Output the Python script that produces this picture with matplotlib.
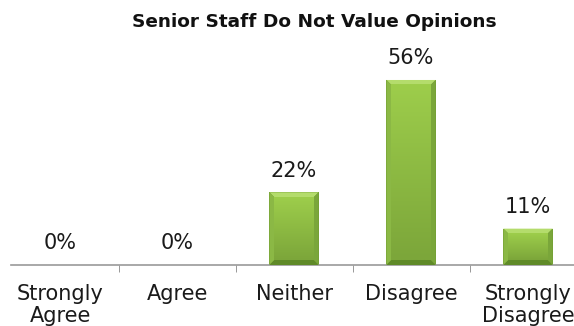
import numpy as np
import matplotlib.pyplot as plt
from matplotlib.patches import Polygon
from matplotlib.colors import LinearSegmentedColormap

categories = ['Strongly\nAgree', 'Agree', 'Neither', 'Disagree', 'Strongly\nDisagree']
values = [0, 0, 22, 56, 11]
title = 'Senior Staff Do Not Value Opinions'

plt.rcParams['font.family'] = ['DejaVu Sans']

fig = plt.figure(figsize=(5.74, 3.26), dpi=100)
ax = fig.add_axes([11 / 574, 61 / 326, 563 / 574, 225 / 326])

x = np.arange(len(categories))
vals = np.array(values) / 100.0
width = 0.42

ax.set_xlim(-0.419, 4.393)
ax.set_ylim(0, 0.681)

# base bars (dark rim), faces and bevels are layered on top
bars = ax.bar(x, vals, width=width, color='#6f9a30', edgecolor='none', zorder=2)

face_cmap = LinearSegmentedColormap.from_list('face', ['#7ca63a', '#9dcd4b'])
px_x = 1 / 117.0
px_y = 1 / 330.0
for b in bars:
    h = b.get_height()
    if h <= 0:
        continue
    x0 = b.get_x()
    x1 = x0 + b.get_width()
    ix, iy = 5 * px_x, 5 * px_y
    ax0, ax1 = x0 + ix, x1 - ix
    ay0, ay1 = iy, h - iy
    # top bevel
    ax.add_patch(Polygon([[x0, h], [x1, h], [ax1, ay1], [ax0, ay1]],
                         closed=True, color='#b4dc6c', lw=0, zorder=3))
    # side bevels
    ax.add_patch(Polygon([[x0, 0], [x0, h], [ax0, ay1], [ax0, ay0]],
                         closed=True, color='#8bb845', lw=0, zorder=3))
    ax.add_patch(Polygon([[x1, 0], [x1, h], [ax1, ay1], [ax1, ay0]],
                         closed=True, color='#7aa63a', lw=0, zorder=3))
    # bottom bevel
    ax.add_patch(Polygon([[x0, 0], [x1, 0], [ax1, ay0], [ax0, ay0]],
                         closed=True, color='#5f8a28', lw=0, zorder=3))
    grad = np.linspace(0, 1, 100).reshape(-1, 1)
    ax.imshow(grad, cmap=face_cmap, origin='lower', aspect='auto',
              extent=[ax0, ax1, ay0, ay1], zorder=4)

# restore limits after imshow
ax.set_xlim(-0.419, 4.393)
ax.set_ylim(0, 0.681)

for xi, v in zip(x, values):
    ax.annotate('%d%%' % v, (xi, v / 100.0), xytext=(0, 8.5), textcoords='offset points',
                ha='center', va='bottom', fontsize=15, color='#1a1a1a', zorder=5)

ax.set_xticks(x)
ax.set_xticklabels(categories, fontsize=15, color='#1a1a1a', linespacing=1.1)
ax.set_xticks(x[:-1] + 0.5, minor=True)
ax.tick_params(axis='x', which='major', length=0, pad=14)
ax.tick_params(axis='x', which='minor', length=5, color='#888888', direction='out')
ax.set_yticks([])

for s in ['top', 'right', 'left']:
    ax.spines[s].set_visible(False)
ax.spines['bottom'].set_color('#999999')
ax.spines['bottom'].set_linewidth(1.2)

fig.text(314 / 574, 1 - 22 / 326, title, ha='center', va='center',
         fontsize=13.3, fontweight='bold', color='#111111')

plt.savefig('out.png', dpi=100)
